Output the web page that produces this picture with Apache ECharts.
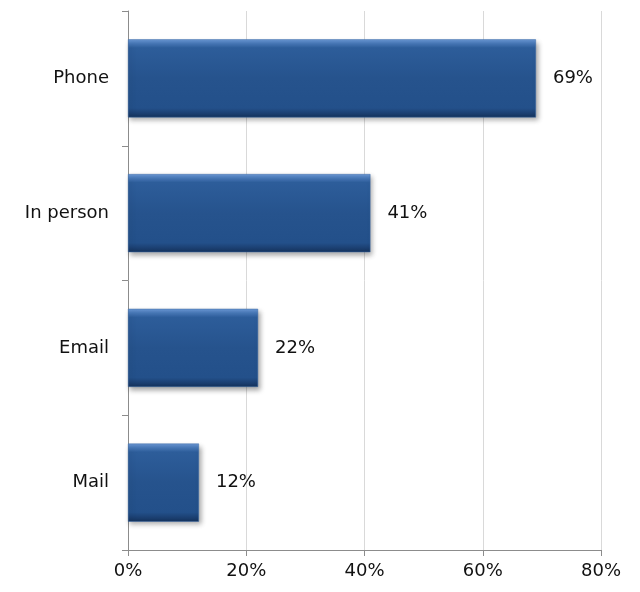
<!DOCTYPE html>
<html>
<head>
<meta charset="utf-8">
<script src="https://cdn.jsdelivr.net/npm/echarts@6/dist/echarts.min.js"></script>
<style>
  html, body { margin: 0; padding: 0; background: #fff; }
  #chart { width: 640px; height: 592px; }
</style>
</head>
<body>
<div id="chart"></div>
<script>
// Contact channels, share of respondents (%)
const categories = ['Phone', 'In person', 'Email', 'Mail'];
const values = [69, 41, 22, 12];
const tickValues = [0, 20, 40, 60, 80];

const FONT = '"DejaVu Sans", sans-serif';
const FONT_SIZE = 18;

// Bevelled bar fill: light top edge, flat body, dark bottom edge
const barFill = new echarts.graphic.LinearGradient(0, 0, 0, 1, [
  { offset: 0.00, color: '#6d9ad6' },
  { offset: 0.05, color: '#4a7bbb' },
  { offset: 0.11, color: '#2d5d9a' },
  { offset: 0.50, color: '#26538d' },
  { offset: 0.88, color: '#23508a' },
  { offset: 0.94, color: '#1c4174' },
  { offset: 1.00, color: '#14325b' }
]);

const chart = echarts.init(document.getElementById('chart'), null, { renderer: 'canvas' });
chart.setOption({
  animation: false,
  backgroundColor: '#ffffff',
  grid: { left: 128, right: 39, top: 11, bottom: 42, containLabel: false },
  xAxis: {
    type: 'value',
    min: tickValues[0],
    max: tickValues[tickValues.length - 1],
    interval: 20,
    axisLine: { show: true, lineStyle: { color: '#8c8c8c', width: 1 } },
    axisTick: { show: true, length: 6, lineStyle: { color: '#8c8c8c' } },
    axisLabel: {
      formatter: v => v + '%',
      color: '#111',
      fontFamily: FONT,
      fontSize: FONT_SIZE,
      margin: 12
    },
    splitLine: { show: true, lineStyle: { color: '#d9d9d9', width: 1 } }
  },
  yAxis: {
    type: 'category',
    data: categories,
    inverse: true,
    axisLine: { show: true, lineStyle: { color: '#8c8c8c', width: 1 } },
    axisTick: { show: true, length: 6, lineStyle: { color: '#8c8c8c' } },
    axisLabel: {
      color: '#111',
      fontFamily: FONT,
      fontSize: FONT_SIZE,
      margin: 19
    }
  },
  series: [{
    type: 'bar',
    data: values,
    barCategoryGap: '42%',
    itemStyle: {
      color: barFill,
      borderColor: '#3d6aa6',
      borderWidth: 0.5,
      shadowColor: 'rgba(0,0,0,0.35)',
      shadowBlur: 5,
      shadowOffsetX: 2,
      shadowOffsetY: 3
    },
    label: {
      show: true,
      position: 'right',
      distance: 17,
      formatter: p => p.value + '%',
      color: '#111',
      fontFamily: FONT,
      fontSize: FONT_SIZE
    }
  }]
});
</script>
</body>
</html>
